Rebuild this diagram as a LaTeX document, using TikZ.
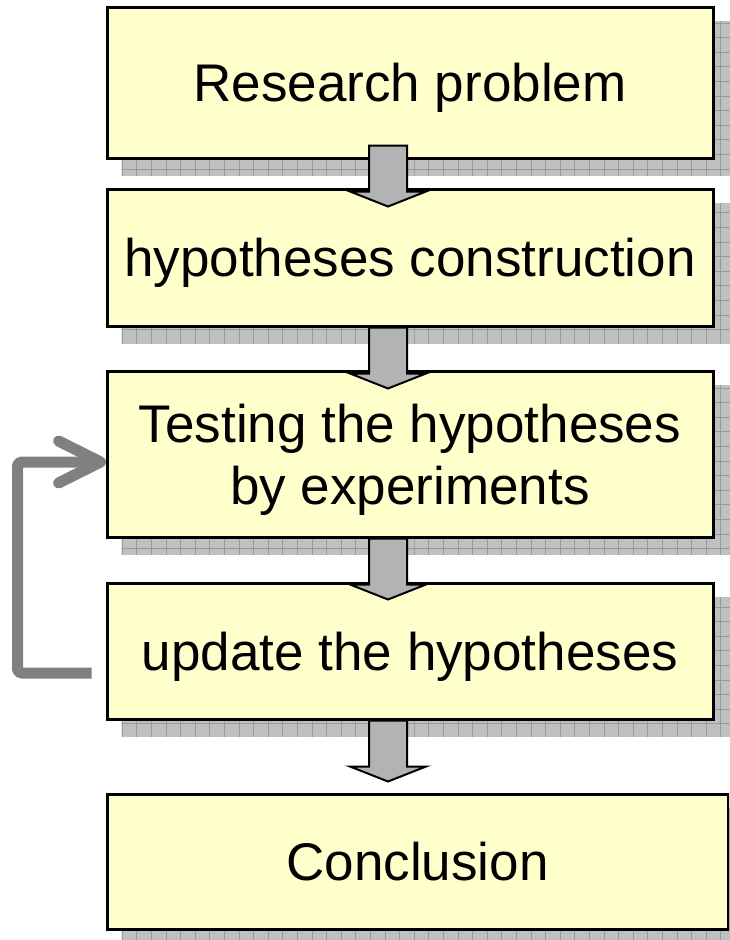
\documentclass[tikz,border=0pt]{standalone}
\usepackage{fontspec}
\setmainfont{Liberation Sans}
\usetikzlibrary{calc,backgrounds}
\definecolor{boxfill}{HTML}{FFFFCC}
\definecolor{arrowfill}{HTML}{B3B3B3}
\definecolor{shadowfill}{HTML}{C0C0C0}
\definecolor{gridc}{HTML}{9A9A9A}
\definecolor{fbgray}{HTML}{808080}
\tikzset{
  box/.style={draw=black, line width=3pt, fill=boxfill, minimum width=606pt,
    inner sep=0pt, align=center, text depth=0pt, font=\fontsize{53}{62}\selectfont},
  blockarrow/.style={draw=black, line width=2pt, fill=arrowfill, line join=miter},
  fb/.style={draw=fbgray, line width=11pt, line join=round},
  gridline/.style={draw=gridc, line width=1pt},
}
\newcommand\blockarr[2]{%
  \draw[blockarrow] ($(#1.south)+(-41,#2)$) -- ++(38,0) -- ++(0,46) -- ++(19,0)
    -- ++(-38,15) -- ++(-38,-15) -- ++(19,0) -- cycle;}
\begin{document}
\begin{tikzpicture}[x=1pt,y=-1pt]
\useasboundingbox (0,0) rectangle (729,940);
\clip (0,0) rectangle (729,940);
\node[box, minimum height=151pt] (b1) at (410,82.5) {Research problem};
\node[box, minimum height=137pt] (b2) at (410,257.5) {hypotheses construction};
\node[box, minimum height=166pt] (b3) at (410,454) {Testing the hypotheses\\by experiments};
\node[box, minimum height=136pt] (b4) at (410,651) {update the hypotheses};
\node[box, minimum width=621pt, minimum height=135pt] (b5) at (417.5,861.5) {Conclusion};
\begin{scope}[on background layer]
  \foreach \n in {b1,b2,b3,b4,b5} {
    \begin{scope}
      \clip ($(\n.north west)+(16,16)$) rectangle ($(\n.south east)+(16,16)$);
      \fill[shadowfill] (0,0) rectangle (760,960);
      \foreach \x in {5.4,20,...,760} \draw[gridline] (\x,0) -- (\x,960);
      \foreach \y in {8.4,23,...,960} \draw[gridline] (0,\y) -- (760,\y);
    \end{scope}
  }
\end{scope}
\blockarr{b1}{-14}
\blockarr{b2}{0}
\blockarr{b3}{0}
\blockarr{b4}{0}
\coordinate (fbs) at ($(b4.west)+(-14,22)$);
\coordinate (fbe) at ($(b3.west)+(-5,8)$);
\draw[fb, rounded corners=4pt] (fbs) -- ++(-74,0) |- ($(fbe)+(-3,0)$);
\draw[fb, line cap=round] ($(fbe)+(-42,-21)$) -- (fbe) -- ($(fbe)+(-42,21)$);
\end{tikzpicture}
\end{document}
